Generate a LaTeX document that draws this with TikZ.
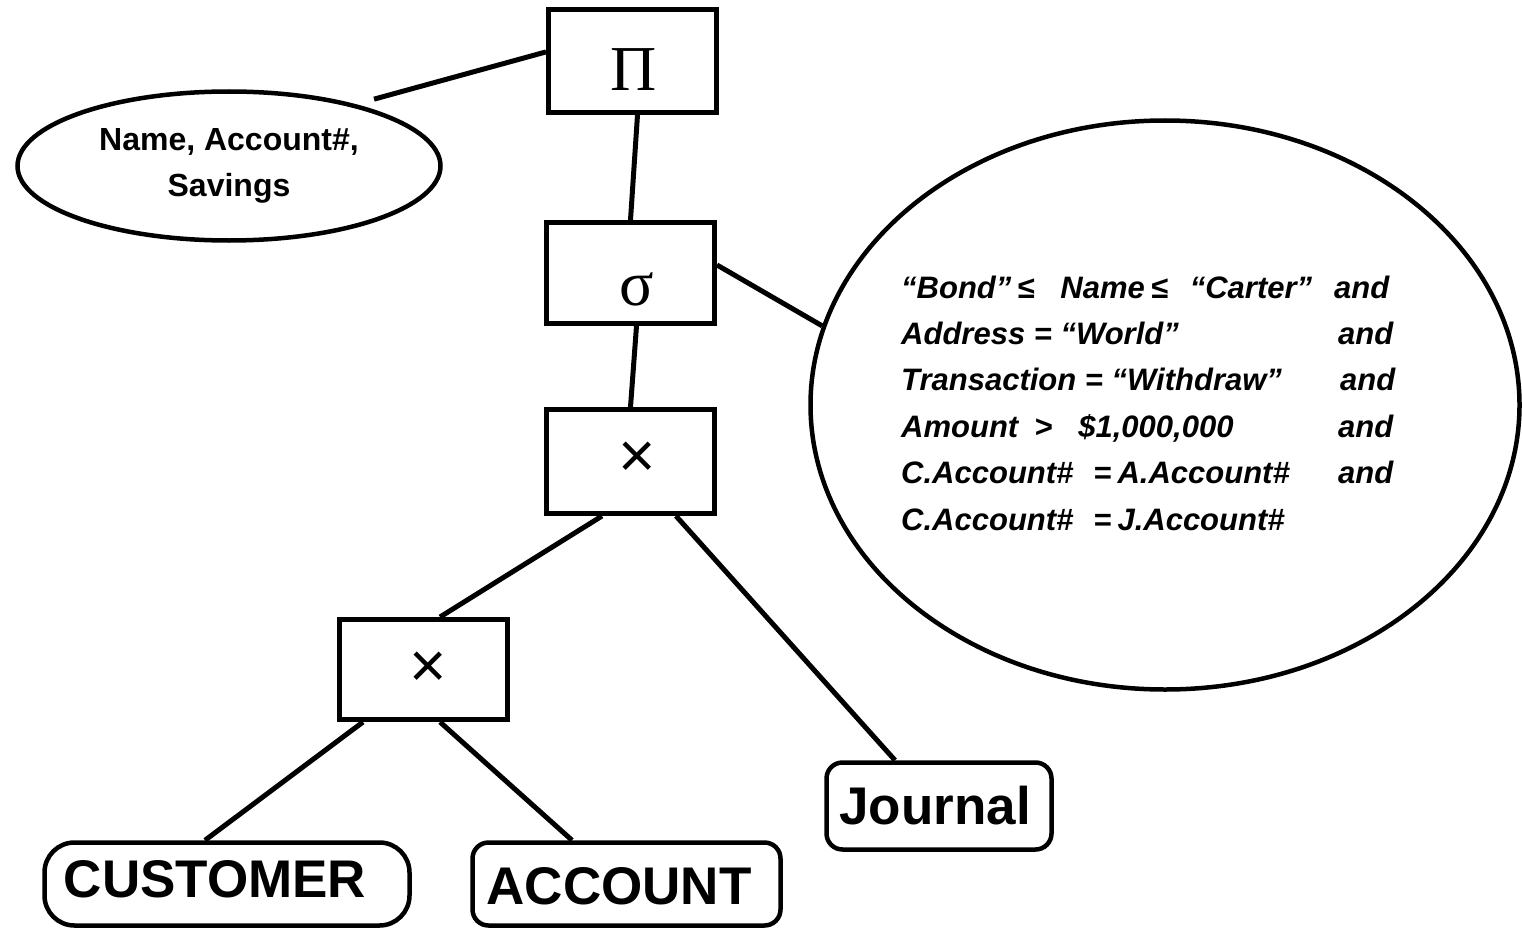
\documentclass[tikz,border=0pt]{standalone}
\usepackage{fontspec}
\setmainfont{Liberation Sans}
\newfontfamily\greekserif{Liberation Serif}
\usetikzlibrary{shapes.geometric,calc}
\begin{document}
\begin{tikzpicture}[x=1pt,y=-1pt,
  opbox/.style={draw,rectangle,minimum width=168pt,inner sep=0pt,line width=5pt},
  optext/.style={inner sep=0pt,font=\greekserif\fontsize{64}{70}\selectfont},
  crosstext/.style={inner sep=0pt,font=\fontsize{64}{70}\selectfont},
  relbox/.style={draw,rectangle,inner sep=0pt,line width=4.5pt},
  reltext/.style={inner sep=0pt,font=\fontsize{53}{60}\selectfont\bfseries},
  condtext/.style={anchor=base west,inner sep=0pt,font=\fontsize{31}{46}\selectfont\bfseries\itshape},
  conn/.style={draw,line width=5pt}]
\useasboundingbox (0,0) rectangle (1522,931);
\fill[white] (0,0) rectangle (1522,931);

% operator boxes
\node[opbox,minimum height=103pt] (pi) at (632.5,61) {};
\node[optext] (pit) at (634,70) {Π};
\node[opbox,minimum height=101pt] (sigma) at (630.5,273) {};
\node[optext] (sigmat) at (637,289) {σ};
\node[opbox,minimum height=104pt] (x1) at (630.5,461.5) {};
\node[crosstext] (x1t) at (637,460) {×};
\node[opbox,minimum height=100pt] (x2) at (423.5,669.5) {};
\node[crosstext] (x2t) at (428,670) {×};

% projection list
\node[draw,ellipse,line width=4.5pt,minimum width=423pt,minimum height=149pt,inner sep=0pt,
      align=center,font=\fontsize{32}{46}\selectfont\bfseries] (proj) at (229,166)
      {Name, Account\#,\\Savings};

% selection condition
\node[draw,ellipse,line width=4.5pt,minimum width=709pt,minimum height=569pt,inner sep=0pt] (cond) at (1165,405) {};
\node[condtext] (c1) at (901,298) {\makebox[433pt][l]{“Bond”\hspace{6pt}≤\hspace{26pt}Name\hspace{6pt}≤\hspace{22pt}“Carter”}and};
\node[condtext] (c2) at (901,344) {\makebox[437pt][l]{Address = “World”}and};
\node[condtext] (c3) at (901,390) {\makebox[439pt][l]{Transaction = “Withdraw”}and};
\node[condtext] (c4) at (901,437) {\makebox[437pt][l]{Amount\hspace{16pt}>\hspace{26pt}\$1,000,000}and};
\node[condtext] (c5) at (901,483) {\makebox[437pt][l]{C.Account\#\hspace{20pt}=\hspace{6pt}A.Account\#}and};
\node[condtext] (c6) at (901,530) {C.Account\#\hspace{20pt}=\hspace{6pt}J.Account\#};

% relations
\node[relbox,rounded corners=30pt,minimum width=365pt,minimum height=83pt] (cust) at (227,884) {};
\node[reltext] (custt) at (215,879) {CUSTOMER};
\node[relbox,rounded corners=16pt,minimum width=308pt,minimum height=83pt] (acct) at (626.5,884) {};
\node[reltext] (acctt) at (619,886) {ACCOUNT};
\node[relbox,rounded corners=16pt,minimum width=225pt,minimum height=87pt] (jour) at (939,806) {};
\node[reltext] (jourt) at (935,806) {Journal};

% connectors
\draw[conn,shorten >=19pt] (pi.174.5) -- (proj.26.6);
\draw[conn] ([xshift=5pt]pi.south) -- (sigma.north);
\draw[conn] ([yshift=8pt]sigma.east) -- (cond.167.7);
\draw[conn] ([xshift=6pt]sigma.south) -- (x1.north);
\draw[conn] ([xshift=-28.5pt]x1.south) -- ([xshift=16.5pt]x2.north);
\draw[conn] ([xshift=45.5pt]x1.south) -- ([xshift=-44pt]jour.north);
\draw[conn] ([xshift=-60.5pt]x2.south) -- ([xshift=-22pt]cust.north);
\draw[conn] ([xshift=16.5pt]x2.south) -- ([xshift=-54.5pt]acct.north);
\end{tikzpicture}
\end{document}
